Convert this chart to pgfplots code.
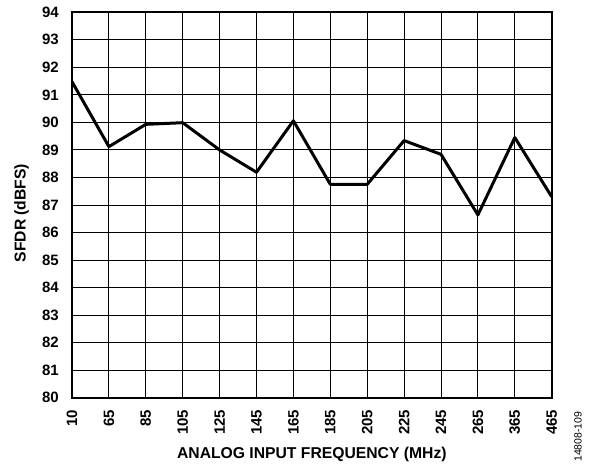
\documentclass[border=0pt]{standalone}
\usepackage{pgfplots}
\pgfplotsset{compat=1.18}
\usepackage{fontspec}
\setmainfont{Liberation Sans}
\begin{document}
\begin{tikzpicture}
\useasboundingbox (0,0) rectangle (589pt,467pt);
\begin{axis}[
  at={(72pt,69.3pt)}, anchor=south west,
  width=479.7pt, height=385.4pt, scale only axis,
  xmin=0, xmax=13, ymin=80, ymax=94,
  xtick={0,...,13},
  xticklabels={10,65,85,105,125,145,165,185,205,225,245,265,365,465},
  ytick={80,81,...,94},
  grid=major,
  major grid style={black, line width=1pt},
  axis line style={black, line width=2pt},
  major tick length=0pt,
  tick style={draw=none},
  /pgf/number format/assume math mode=true,
  ticklabel style={font=\bfseries\fontsize{15}{15}\selectfont, inner sep=0pt},
  yticklabel shift=13pt,
  xticklabel shift=12pt,
  xticklabel style={rotate=90, anchor=east},
  yticklabel style={anchor=east},
  xlabel={ANALOG INPUT FREQUENCY (MHz)},
  ylabel={SFDR (dBFS)},
  label style={font=\bfseries\fontsize{15.7}{15.7}\selectfont},
  xlabel style={at={(axis description cs:0.5,-0.1572)}, anchor=base},
  ylabel style={at={(axis description cs:-0.1053,0.479)}, anchor=center, rotate=0},
]
\addplot[black, line width=3pt, line join=round, mark=none] coordinates {
  (0,91.48) (1,89.12) (2,89.93) (3,89.99) (4,89.0) (5,88.19) (6,90.06)
  (7,87.75) (8,87.75) (9,89.34) (10,88.84) (11,86.64) (12,89.45) (13,87.30)
};
\end{axis}
\node[rotate=90, font=\fontsize{10.5}{10.5}\selectfont, inner sep=0pt] at (578pt,30.3pt) {14808-109};
\end{tikzpicture}
\end{document}
